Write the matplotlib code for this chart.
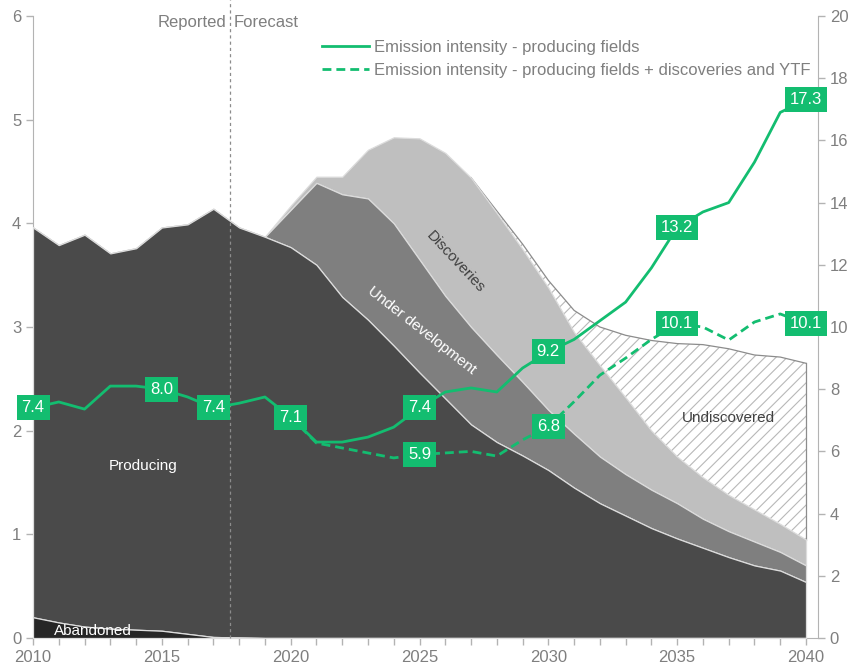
import matplotlib
matplotlib.use("Agg")
import matplotlib.pyplot as plt
import numpy as np

plt.rcParams["font.family"] = ["Liberation Sans", "DejaVu Sans"]
plt.rcParams["hatch.linewidth"] = 0.8

years = np.arange(2010, 2041)

# stacked layer tops (left axis)
abandoned = [0.20, 0.15, 0.11, 0.09, 0.08, 0.07, 0.04, 0.01, 0.005, 0.0,
             0.0, 0.0, 0.0, 0.0, 0.0, 0.0, 0.0, 0.0, 0.0, 0.0,
             0.0, 0.0, 0.0, 0.0, 0.0, 0.0, 0.0, 0.0, 0.0, 0.0, 0.0]
producing_top = [3.96, 3.79, 3.89, 3.71, 3.76, 3.96, 3.99, 4.14, 3.96, 3.87,
                 3.77, 3.60, 3.29, 3.07, 2.82, 2.56, 2.31, 2.06, 1.89, 1.76,
                 1.62, 1.45, 1.30, 1.18, 1.06, 0.96, 0.87, 0.78, 0.70, 0.65, 0.54]
under_dev_top = [3.96, 3.79, 3.89, 3.71, 3.76, 3.96, 3.99, 4.14, 3.96, 3.87,
                 4.13, 4.39, 4.28, 4.24, 4.00, 3.65, 3.30, 3.00, 2.73, 2.47,
                 2.20, 1.97, 1.75, 1.58, 1.43, 1.30, 1.15, 1.03, 0.93, 0.83, 0.70]
discoveries_top = [3.96, 3.79, 3.89, 3.71, 3.76, 3.96, 3.99, 4.14, 3.96, 3.87,
                   4.17, 4.45, 4.45, 4.71, 4.83, 4.82, 4.68, 4.44, 4.10, 3.75,
                   3.38, 2.95, 2.63, 2.32, 2.00, 1.75, 1.55, 1.38, 1.24, 1.10, 0.95]
undiscovered_top = [3.96, 3.79, 3.89, 3.71, 3.76, 3.96, 3.99, 4.14, 3.96, 3.87,
                    4.17, 4.45, 4.45, 4.71, 4.83, 4.82, 4.68, 4.44, 4.12, 3.80,
                    3.45, 3.16, 3.00, 2.92, 2.87, 2.84, 2.83, 2.79, 2.73, 2.71, 2.65]

# emission intensity (right axis)
intensity_producing = [7.4, 7.59, 7.36, 8.10, 8.10, 8.0, 7.75, 7.4, 7.55, 7.75,
                       7.1, 6.30, 6.30, 6.46, 6.78, 7.4, 7.91, 8.04, 7.91, 8.68,
                       9.2, 9.6, 10.2, 10.8, 11.9, 13.2, 13.7, 14.0, 15.3, 16.9, 17.3]
years_all = np.arange(2020, 2041)
intensity_all = [7.1, 6.27, 6.11, 5.95, 5.79, 5.9, 5.95, 6.0, 5.85, 6.37,
                 6.8, 7.6, 8.45, 9.0, 9.6, 10.1, 10.0, 9.58, 10.16, 10.42, 10.1]
label_years_producing = [2010, 2015, 2017, 2020, 2025, 2030, 2035, 2040]
label_years_all = [2025, 2030, 2035, 2040]

GREEN = "#13bd70"
GREY_TXT = "#7f7f7f"
SPINE = "#b3b3b3"

fig = plt.figure(figsize=(8.53, 6.67), dpi=100)
ax = fig.add_axes([33 / 853, 1 - 638 / 667, 785 / 853, 622 / 667])
x_end = 2010 + 785 / (773 / 30)

edge = dict(edgecolor="#dcdcdc", linewidth=0.9)
ax.fill_between(years, undiscovered_top, discoveries_top, facecolor="white",
                hatch="///", edgecolor="#b8b8b8", linewidth=0.0, zorder=1)
ax.plot(years[17:], undiscovered_top[17:], color="#8c8c8c", linewidth=0.9, zorder=2)
ax.plot([2040, 2040], [discoveries_top[-1], undiscovered_top[-1]], color="#8c8c8c",
        linewidth=0.9, zorder=2)
ax.fill_between(years, under_dev_top, discoveries_top, facecolor="#bfbfbf", zorder=2, **edge)
ax.fill_between(years, producing_top, under_dev_top, facecolor="#7f7f7f", zorder=3, **edge)
ax.fill_between(years, abandoned, producing_top, facecolor="#4a4a4a", zorder=4, **edge)
ax.fill_between(years, 0, abandoned, facecolor="#262626", zorder=5, **edge)

ax.set_xlim(2010, x_end)
ax.set_ylim(0, 6)
ax.set_xticks(range(2010, 2041, 5))
ax.set_xticks(range(2010, 2041), minor=True)
ax.set_yticks(range(0, 7))

ax.text(2014.27, 1.66, "Producing", color="white", fontsize=11, ha="center", va="center", zorder=6)
ax.text(2012.33, 0.07, "Abandoned", color="white", fontsize=11, ha="center", va="center", zorder=6)
ax.text(2025.1, 2.97, "Under development", color="white", fontsize=11, ha="center",
        va="center", rotation=-38, rotation_mode="anchor", zorder=6)
ax.text(2026.4, 3.63, "Discoveries", color="#404040", fontsize=11, ha="center",
        va="center", rotation=-47, rotation_mode="anchor", zorder=6)
ax.text(2037.0, 2.12, "Undiscovered", color="#404040", fontsize=11, ha="center",
        va="center", zorder=6)

split = 2017.65
ax.axvline(split, ymin=0, ymax=1.026, color="#8c8c8c", linestyle=(0, (2.5, 2.5)),
           linewidth=0.9, clip_on=False, zorder=6)
ax.text(split - 0.15, 5.94, "Reported", color=GREY_TXT, fontsize=12, ha="right", va="center")
ax.text(split + 0.15, 5.94, "Forecast", color=GREY_TXT, fontsize=12, ha="left", va="center")

ax2 = ax.twinx()
ax2.set_ylim(0, 20)
ax2.set_yticks(range(0, 21, 2))
ax2.plot(years, intensity_producing, color=GREEN, linewidth=2.0, zorder=3,
         label="Emission intensity - producing fields")
ax2.plot(years_all, intensity_all, color=GREEN, linewidth=2.0, linestyle=(0, (3.2, 1.8)),
         zorder=3, label="Emission intensity - producing fields + discoveries and YTF")

box = dict(boxstyle="square,pad=0.3", facecolor=GREEN, edgecolor="none")
for yr in label_years_producing:
    v = intensity_producing[list(years).index(yr)]
    ax2.text(yr, v, f"{v:.1f}", color="white", fontsize=12, ha="center", va="center",
             bbox=box, zorder=5, clip_on=False)
for yr in label_years_all:
    v = intensity_all[list(years_all).index(yr)]
    ax2.text(yr, v, f"{v:.1f}", color="white", fontsize=12, ha="center", va="center",
             bbox=box, zorder=5, clip_on=False)

leg = ax2.legend(loc="upper left", bbox_to_anchor=((322 - 33) / 785, (638 - 40) / 622),
                 frameon=False, fontsize=12, handlelength=2.8, handletextpad=0.3,
                 labelspacing=0.45, borderpad=0, borderaxespad=0)
for t in leg.get_texts():
    t.set_color(GREY_TXT)

for a in (ax, ax2):
    a.spines["top"].set_visible(False)
    for s in ("left", "right", "bottom"):
        a.spines[s].set_color(SPINE)
    a.tick_params(colors=SPINE, labelcolor=GREY_TXT, labelsize=12, length=5, width=1)
    a.tick_params(which="minor", colors=SPINE, length=5, width=1)
ax.spines["right"].set_visible(False)
ax2.spines["left"].set_visible(False)
ax2.spines["bottom"].set_visible(False)
ax.tick_params(axis="x", pad=4)

fig.savefig("out.png", dpi=100)
